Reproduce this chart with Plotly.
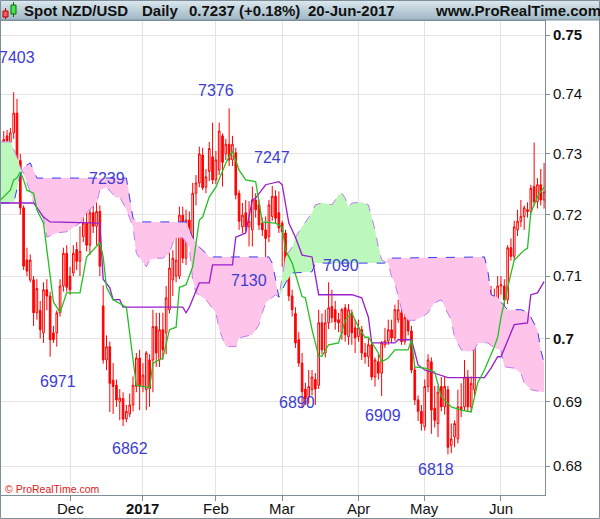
import numpy as np
import pandas as pd
import plotly.graph_objects as go

# ---------------- data ----------------
dates = pd.bdate_range("2016-11-01", "2017-06-20")
day = list(range(len(dates)))

opens = [.7300,.7305,.7281,.7330,.7319,.7335,.7368,.7289,.7211,.7126,.7094,.7094,.7041,.7045,.7009,.7078,.7068,.7009,.7009,.7041,
         .7084,.7137,.7100,.7105,.7143,.7124,.7164,.7186,.7150,.7203,.7181,.7205,.7052,.6966,.6987,.6934,.6926,.6900,.6905,.6873,
         .6881,.6895,.6924,.6969,.6924,.6919,.6966,.6966,.7019,.6966,.7014,.7009,.7046,.7094,.7100,.7100,.7199,.7129,.7191,.7132,
         .7235,.7252,.7298,.7245,.7271,.7295,.7257,.7273,.7330,.7300,.7316,.7290,.7302,.7235,.7180,.7203,.7180,.7175,.7224,.7216,
         .7186,.7175,.7164,.7197,.7230,.7203,.7186,.7170,.7118,.7068,.7040,.6998,.6961,.6920,.6908,.6919,.6935,.6926,.7025,.6977,
         .7025,.7051,.7046,.7030,.7009,.7049,.7003,.7041,.7017,.7003,.7014,.6977,.6971,.6990,.6939,.6963,.6945,.6990,.6996,.7014,
         .7001,.7030,.7041,.6995,.7036,.7012,.6950,.6903,.6885,.6861,.6924,.6963,.6890,.6866,.6924,.6892,.6919,.6832,.6845,.6842,
         .6892,.6892,.6939,.6892,.6919,.7009,.7006,.7046,.7041,.7017,.7057,.7041,.7084,.7084,.7062,.7146,.7132,.7175,.7189,.7197,
         .7208,.7205,.7246,.7221,.7249,.7224]
highs = [.7325,.7330,.7338,.7340,.7343,.7403,.7392,.7300,.7215,.7146,.7135,.7100,.7095,.7060,.7090,.7095,.7075,.7020,.7045,.7095,
         .7146,.7150,.7115,.7150,.7155,.7181,.7203,.7224,.7212,.7230,.7239,.7215,.7085,.7005,.6995,.6961,.6935,.6920,.6915,.6895,
         .6913,.6940,.6977,.6982,.6961,.6980,.6975,.7046,.7041,.7041,.7041,.7084,.7148,.7142,.7170,.7213,.7213,.7208,.7205,.7252,
         .7265,.7312,.7310,.7275,.7320,.7352,.7305,.7352,.7334,.7325,.7376,.7330,.7310,.7240,.7219,.7224,.7222,.7246,.7235,.7224,
         .7195,.7197,.7224,.7247,.7240,.7238,.7190,.7175,.7125,.7078,.7050,.7010,.6977,.6930,.6950,.6950,.6945,.7046,.7040,.7046,
         .7090,.7078,.7060,.7041,.7049,.7055,.7055,.7046,.7030,.7030,.7020,.6993,.7000,.6995,.6970,.6975,.6996,.7017,.7030,.7030,
         .7054,.7062,.7050,.7054,.7062,.7020,.6955,.6910,.6895,.6935,.6975,.6970,.6925,.6925,.6939,.6939,.6925,.6866,.6871,.6919,
         .6929,.6966,.6950,.6940,.7012,.7046,.7055,.7060,.7050,.7084,.7080,.7100,.7100,.7095,.7150,.7161,.7190,.7208,.7224,.7215,
         .7220,.7249,.7319,.7260,.7275,.7285]
lows = [.7280,.7280,.7275,.7310,.7290,.7325,.7280,.7200,.7110,.7100,.7090,.7020,.7030,.7000,.6993,.7045,.6971,.6993,.6987,.7035,
        .7075,.7075,.7070,.7100,.7110,.7100,.7155,.7140,.7134,.7170,.7150,.7100,.6960,.6950,.6884,.6881,.6892,.6871,.6862,.6868,
        .6876,.6885,.6915,.6887,.6915,.6887,.6892,.6915,.6955,.6955,.6966,.6975,.7040,.7068,.7090,.7095,.7121,.7118,.7150,.7125,
        .7215,.7245,.7240,.7235,.7255,.7250,.7250,.7265,.7246,.7290,.7280,.7280,.7225,.7175,.7170,.7172,.7148,.7148,.7195,.7175,
        .7165,.7130,.7155,.7190,.7185,.7170,.7115,.7100,.7060,.7035,.6985,.6955,.6890,.6895,.6897,.6910,.6895,.6920,.6975,.6970,
        .7015,.7025,.7014,.7010,.6998,.6995,.6990,.6990,.6977,.6995,.6966,.6960,.6955,.6934,.6924,.6935,.6909,.6985,.6990,.6993,
        .6996,.7025,.6990,.6990,.7005,.6945,.6895,.6870,.6855,.6855,.6915,.6850,.6860,.6845,.6885,.6880,.6818,.6820,.6829,.6835,
        .6876,.6887,.6885,.6885,.6910,.6993,.7000,.7010,.7005,.7010,.7040,.7030,.7070,.7050,.7055,.7125,.7125,.7165,.7180,.7175,
        .7195,.7200,.7215,.7210,.7215,.7210]
closes = [.7305,.7290,.7324,.7322,.7335,.7368,.7289,.7211,.7116,.7108,.7126,.7041,.7080,.7014,.7078,.7068,.6998,.6998,.7041,.7084,
          .7137,.7082,.7078,.7137,.7124,.7140,.7186,.7150,.7203,.7181,.7205,.7116,.6966,.6987,.6929,.6924,.6903,.6906,.6873,.6885,
          .6895,.6926,.6969,.6924,.6942,.6977,.6921,.7019,.6977,.7014,.6982,.7065,.7113,.7129,.7126,.7199,.7129,.7191,.7169,.7235,
          .7252,.7300,.7244,.7262,.7309,.7257,.7290,.7338,.7286,.7316,.7290,.7316,.7232,.7189,.7199,.7180,.7189,.7224,.7208,.7183,
          .7175,.7161,.7216,.7230,.7194,.7178,.7172,.7115,.7068,.7046,.6993,.6961,.6916,.6905,.6924,.6939,.6920,.7025,.6982,.7025,
          .7049,.7033,.7027,.7025,.7046,.7006,.7046,.7009,.7001,.7017,.6977,.6971,.6990,.6939,.6966,.6945,.6993,.6996,.7014,.7001,
          .7046,.7046,.6995,.7033,.7012,.6950,.6903,.6885,.6866,.6924,.6966,.6887,.6871,.6915,.6892,.6924,.6829,.6842,.6866,.6892,
          .6887,.6939,.6892,.6929,.7009,.7006,.7046,.7017,.7014,.7065,.7052,.7084,.7086,.7062,.7146,.7132,.7180,.7189,.7197,.7211,
          .7205,.7243,.7221,.7249,.7224,.7237]

# Ichimoku lines (day index, value at vertices)
tenkan_day = [1,4,5,6,7,8,9,11,12,14,17,19,21,25,27,31,32,33,35,39,42,46,47,50,52,54,55,57,59,61,62,64,66,69,71,73,75,78,80,84,
              86,87,89,90,92,93,95,97,98,100,103,105,107,109,111,112,115,116,118,120,124,125,126,129,132,134,137,140,143,145,147,
              150,151,152,154,155,156,159,160,161,163,165]
tenkan_val = [.7224,.7240,.7257,.7260,.7270,.7257,.7240,.7235,.7208,.7186,.7058,.7042,.7073,.7073,.7131,.7154,.7131,.7082,.7062,.7050,
              .6926,.6922,.6961,.6969,.7014,.7018,.7082,.7086,.7115,.7191,.7196,.7229,.7245,.7285,.7305,.7273,.7257,.7254,.7188,.7186,
              .7180,.7142,.7121,.7102,.7067,.7065,.7014,.6972,.6972,.6990,.6993,.7029,.7041,.7018,.7002,.7002,.6977,.6963,.6969,.6982,
              .6982,.6998,.6955,.6953,.6947,.6908,.6892,.6887,.6884,.6930,.6950,.6987,.7002,.7034,.7083,.7104,.7126,.7142,.7145,.7203,
              .7229,.7245]
kijun_day = [1,11,14,16,31,32,34,35,37,38,56,57,58,61,64,65,71,72,75,77,78,81,85,86,88,90,92,95,97,107,110,112,113,120,121,125,
             127,129,136,147,149,151,152,155,156,160,161,163,165]
kijun_val = [.7219,.7219,.7196,.7188,.7186,.7095,.7081,.7062,.7062,.7050,.7050,.7041,.7050,.7089,.7089,.7118,.7118,.7163,.7170,.7224,
             .7227,.7249,.7254,.7249,.7186,.7163,.7134,.7131,.7070,.7070,.7065,.7034,.6993,.6993,.6998,.6998,.6958,.6950,.6938,.6938,
             .6953,.6971,.6971,.7011,.7022,.7025,.7070,.7073,.7091]
spanA_day = [1,4,6,7,8,11,13,14,15,18,21,25,27,30,31,33,36,37,39,41,42,44,45,46,48,50,52,53,54,56,57,58,59,60,63,66,67,69,72,73,
             77,79,80,81,84,85,86,87,89,90,92,94,95,96,98,101,103,104,105,106,107,110,112,113,114,115,116,118,119,120,121,122,124,
             126,128,130,131,132,134,135,137,138,140,142,144,145,148,150,152,153,156,158,159,161,165]
spanA_val = [.7320,.7320,.7295,.7278,.7268,.7221,.7203,.7194,.7163,.7170,.7172,.7186,.7203,.7219,.7240,.7245,.7227,.7229,.7208,.7180,
             .7137,.7121,.7115,.7126,.7129,.7129,.7137,.7154,.7162,.7162,.7154,.7147,.7094,.7073,.7062,.7041,.7014,.6987,.6987,.7001,
             .7006,.7022,.7041,.7057,.7070,.7066,.7099,.7131,.7147,.7163,.7180,.7194,.7203,.7216,.7219,.7216,.7232,.7235,.7227,.7212,
             .7219,.7220,.7216,.7196,.7175,.7147,.7126,.7121,.7099,.7089,.7066,.7046,.7029,.7029,.7034,.7041,.7050,.7057,.7062,.7050,
             .7029,.7002,.6982,.6979,.6982,.6993,.6993,.6985,.6982,.6955,.6953,.6945,.6930,.6919,.6915]
spanB_day = [1,5,7,8,10,12,39,40,41,42,57,59,61,63,64,82,83,84,85,87,89,95,96,117,118,147,148,149,151,152,154,158,160,161,163,164,165]
spanB_val = [.7219,.7219,.7265,.7278,.7285,.7260,.7260,.7229,.7194,.7188,.7188,.7163,.7147,.7137,.7131,.7131,.7121,.7095,.7066,.7089,
             .7105,.7107,.7121,.7121,.7129,.7131,.7110,.7070,.7066,.7058,.7046,.7046,.7042,.7034,.7014,.6982,.6961]

label_text = ["7403", "7239", "6971", "6862", "7376", "7247", "7130", "6890", "7090", "6909", "6818"]
label_day = [5, 30, 16, 38, 70, 83, 81, 92, 100, 116, 136]
label_side = ["high", "high", "low", "low", "high", "high", "low", "low", "high", "low", "low"]

y_ticks = [0.68, 0.69, 0.70, 0.71, 0.72, 0.73, 0.74, 0.75]
y_tick_text = ["0.68", "0.69", "<b>0.7</b>", "0.71", "0.72", "0.73", "0.74", "<b>0.75</b>"]
month_names = ["Dec", "<b>2017</b>", "Feb", "Mar", "Apr", "May", "Jun"]

# ---------------- layout helpers ----------------
W, H = 600, 519
ML, MR, MT, MB = 1, 55, 21, 24
PW, PH = W - ML - MR, H - MT - MB
FONT = "Liberation Sans, Arial, sans-serif"

def px2x(px):
    return (px - ML) / PW

def px2y(py):
    return (H - MB - py) / PH

# month tick positions (first trading day of each month)
month_starts = []
s = pd.Series(day, index=dates)
for m in [(2016, 12), (2017, 1), (2017, 2), (2017, 3), (2017, 4), (2017, 5), (2017, 6)]:
    sel = s[(s.index.year == m[0]) & (s.index.month == m[1])]
    month_starts.append(int(sel.iloc[0]))

fig = go.Figure()

# ---------------- cloud ----------------
sx = np.array(sorted(set(spanA_day) | set(spanB_day)), dtype=float)
sa = np.interp(sx, spanA_day, spanA_val)
sb = np.interp(sx, spanB_day, spanB_val)
X, A, B = [sx[0]], [sa[0]], [sb[0]]
for k in range(1, len(sx)):
    d0 = sa[k - 1] - sb[k - 1]
    d1 = sa[k] - sb[k]
    if d0 * d1 < 0:
        t = d0 / (d0 - d1)
        xc = sx[k - 1] + t * (sx[k] - sx[k - 1])
        yc = sa[k - 1] + t * (sa[k] - sa[k - 1])
        X.append(xc); A.append(yc); B.append(yc)
    X.append(sx[k]); A.append(sa[k]); B.append(sb[k])
HI = np.maximum(A, B)

fig.add_trace(go.Scatter(x=X, y=B, mode="lines", line=dict(width=0), hoverinfo="skip", showlegend=False))
fig.add_trace(go.Scatter(x=X, y=HI, mode="lines", line=dict(width=0), fill="tonexty",
                         fillcolor="#bcf7bc", hoverinfo="skip", showlegend=False))
fig.add_trace(go.Scatter(x=X, y=A, mode="lines", line=dict(width=0), hoverinfo="skip", showlegend=False))
fig.add_trace(go.Scatter(x=X, y=HI, mode="lines", line=dict(width=0), fill="tonexty",
                         fillcolor="#ffc4ea", hoverinfo="skip", showlegend=False))

fig.add_trace(go.Scatter(x=spanA_day, y=spanA_val, mode="lines",
                         line=dict(color="#c07cf0", width=1, dash="dash"), hoverinfo="skip", showlegend=False))
fig.add_trace(go.Scatter(x=spanB_day, y=spanB_val, mode="lines",
                         line=dict(color="#3a3af0", width=1, dash="dash"), hoverinfo="skip", showlegend=False))

# ---------------- candles ----------------
fig.add_trace(go.Candlestick(
    x=day, open=opens, high=highs, low=lows, close=closes,
    increasing=dict(line=dict(color="#ff0000", width=1), fillcolor="#ffffff"),
    decreasing=dict(line=dict(color="#ff0000", width=1), fillcolor="#ff0000"),
    whiskerwidth=0, showlegend=False, hoverinfo="skip"))

# ---------------- tenkan / kijun ----------------
fig.add_trace(go.Scatter(x=kijun_day, y=kijun_val, mode="lines",
                         line=dict(color="#9a1ccc", width=1.3), hoverinfo="skip", showlegend=False))
fig.add_trace(go.Scatter(x=tenkan_day, y=tenkan_val, mode="lines",
                         line=dict(color="#22c022", width=1.3), hoverinfo="skip", showlegend=False))

# ---------------- extreme labels ----------------
label_shift = {"7403": (3, 35), "7239": (10, 12), "6971": (8, -25), "6862": (7, -22), "7376": (-13, 18),
               "7247": (0, 28), "7130": (-17, -23), "6890": (-5, 6), "7090": (12, 17), "6909": (1, -19),
               "6818": (-12, -15)}
annotations = []
for t, d, side in zip(label_text, label_day, label_side):
    v = highs[d] if side == "high" else lows[d]
    dx, dy = label_shift[t]
    annotations.append(dict(x=d, y=np.log10(v), xref="x", yref="y", text=t, showarrow=False,
                            xshift=dx, yshift=dy, font=dict(family=FONT, size=16, color="#3d3dd0")))

# month labels under the axis
for d, t in zip(month_starts, month_names):
    annotations.append(dict(x=d, y=px2y(508.5), xref="x", yref="paper", text=t, showarrow=False,
                            xanchor="center", yanchor="middle",
                            font=dict(family=FONT, size=15, color="#111111")))

# ---------------- header ----------------
shapes = []
grad = ["#dce7ed", "#d5e2e9", "#cedce4", "#c7d7e0", "#c0d2dc", "#b9cdd7", "#b3c8d3", "#adc3cf", "#a8bfcb", "#a4bbc8"]
for k, c in enumerate(grad):
    shapes.append(dict(type="rect", xref="paper", yref="paper", x0=px2x(0), x1=px2x(W),
                       y0=px2y(2 * k + 2), y1=px2y(2 * k), fillcolor=c, line=dict(width=0), layer="above"))
shapes.append(dict(type="line", xref="paper", yref="paper", x0=px2x(0), x1=px2x(W), y0=px2y(20), y1=px2y(20),
                   line=dict(color="#7d8f99", width=1), layer="above"))
# small candle icon
shapes.append(dict(type="line", xref="paper", yref="paper", x0=px2x(5.5), x1=px2x(5.5), y0=px2y(8), y1=px2y(19),
                   line=dict(color="#b00000", width=1), layer="above"))
shapes.append(dict(type="rect", xref="paper", yref="paper", x0=px2x(3), x1=px2x(8), y0=px2y(17), y1=px2y(11),
                   fillcolor="#f06060", line=dict(color="#b00000", width=1), layer="above"))
shapes.append(dict(type="line", xref="paper", yref="paper", x0=px2x(13.5), x1=px2x(13.5), y0=px2y(2), y1=px2y(17),
                   line=dict(color="#007000", width=1), layer="above"))
shapes.append(dict(type="rect", xref="paper", yref="paper", x0=px2x(11), x1=px2x(16), y0=px2y(14), y1=px2y(5),
                   fillcolor="#50e050", line=dict(color="#007000", width=1), layer="above"))
# outer border
shapes.append(dict(type="rect", xref="paper", yref="paper", x0=px2x(0.5), x1=px2x(599.5), y0=px2y(518.5), y1=px2y(0.5),
                   line=dict(color="#7d8f99", width=1), layer="above"))

header = [("Spot NZD/USD", 22), ("Daily", 140), ("0.7237 (+0.18%)", 187), ("20-Jun-2017", 306),
          ("www.ProRealTime.com", 433)]
for t, x0 in header:
    annotations.append(dict(x=px2x(x0), y=px2y(10.5), xref="paper", yref="paper", text="<b>%s</b>" % t,
                            showarrow=False, xanchor="left", yanchor="middle",
                            font=dict(family=FONT, size=15, color="#111111")))
annotations.append(dict(x=px2x(3), y=px2y(488.5), xref="paper", yref="paper", text="© ProRealTime.com",
                        showarrow=False, xanchor="left", yanchor="middle",
                        font=dict(family=FONT, size=10.5, color="#e02020")))

y_lo = 0.75 * np.exp(-(H - MB - 35) / 4399.0)
y_hi = 0.75 * np.exp((35 - MT) / 4399.0)

fig.update_layout(
    width=W, height=H, margin=dict(l=ML, r=MR, t=MT, b=MB, pad=0),
    paper_bgcolor="white", plot_bgcolor="white", showlegend=False,
    font=dict(family=FONT, size=15, color="#111111"),
    annotations=annotations, shapes=shapes,
    xaxis=dict(range=[(ML + 2.9) / 3.315, (ML + PW + 2.9) / 3.315], rangeslider=dict(visible=False),
               tickmode="array", tickvals=month_starts, ticktext=[""] * len(month_starts),
               showgrid=True, gridcolor="#e3e3e3", gridwidth=1, zeroline=False,
               showline=True, linecolor="#7d8f99", linewidth=1, mirror=True,
               ticks="outside", ticklen=5, tickcolor="#7d8f99"),
    yaxis=dict(type="log", range=[np.log10(y_lo), np.log10(y_hi)], side="right",
               tickmode="array", tickvals=y_ticks, ticktext=y_tick_text,
               showgrid=True, gridcolor="#e3e3e3", gridwidth=1, zeroline=False,
               showline=True, linecolor="#7d8f99", linewidth=1, mirror=True,
               ticks="outside", ticklen=4, tickcolor="#7d8f99",
               tickfont=dict(family=FONT, size=15, color="#111111")),
)

fig.write_html("out.html", config={"displayModeBar": False},
               post_script="document.body.style.margin='0px';document.body.style.overflow='hidden';")
